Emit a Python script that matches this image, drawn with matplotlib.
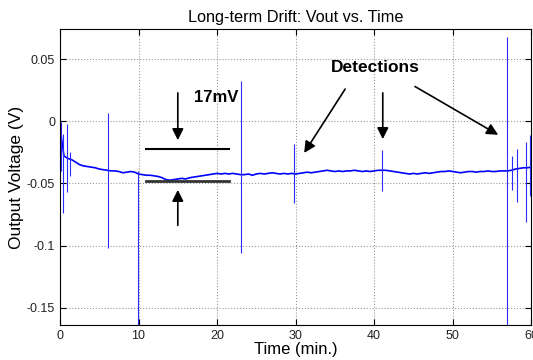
import numpy as np
import matplotlib
matplotlib.use("Agg")
import matplotlib.pyplot as plt

plt.rcParams['font.family'] = ['Liberation Sans', 'DejaVu Sans']

# baseline drift, sampled every 0.5 min (mV)
t_step = 0.5
drift_mv = [
    -5, -28, -30, -31, -33, -35, -36, -36.5, -37, -37.5,
    -38.5, -39, -39.5, -40, -40, -40.5, -41.5, -41, -40.5, -41,
    -42.5, -43, -43.5, -43.5, -44, -44.5, -45.5, -47, -47.5, -47,
    -46.5, -46, -46.5, -45.5, -45, -44.5, -44, -43.5, -43, -42.5,
    -42, -42.5, -42, -42.5, -42, -42.5, -43, -43, -42.5, -43.5,
    -42.5, -42, -42.5, -42, -41.5, -42, -42.5, -42, -42.5, -42,
    -42.5, -42, -41.5, -41, -41.5, -41, -40.5, -40, -39.5, -40,
    -40.5, -40, -40.5, -40, -40, -39.5, -40, -40.5, -40, -40.5,
    -40, -39.5, -39.5, -39.5, -40, -40.5, -41, -41.5, -42, -42.5,
    -42, -42.5, -42, -41.5, -42, -41.5, -41, -40.5, -40.5, -40,
    -40.5, -41, -41.5, -41, -40.5, -40.5, -41, -40.5, -40.5, -40,
    -40.5, -40.5, -40, -40, -40, -39.5, -38.5, -38, -37.5, -37.5,
    -37,
]

# spikes: time (min), top (V), bottom (V)
spike_t = [0.1, 0.4, 0.85, 1.3, 6.1, 9.9, 23.1, 29.8, 41.0, 56.9, 57.6, 58.2, 59.3, 59.9]
spike_top = [-0.001, -0.010, -0.002, -0.025, 0.0065, -0.040, 0.032, -0.018, -0.023, 0.068,
             -0.028, -0.022, -0.017, -0.011]
spike_bot = [-0.040, -0.074, -0.057, -0.044, -0.102, -0.17, -0.106, -0.066, -0.056, -0.17,
             -0.055, -0.065, -0.081, -0.060]

time = np.arange(len(drift_mv)) * t_step
volts = np.array(drift_mv) / 1000.0

fig = plt.figure(figsize=(5.33, 3.6), dpi=100)
ax = fig.add_axes([0.1126, 0.097, 0.884, 0.822])

ax.plot(time, volts, color='blue', lw=1.2)
ax.vlines(spike_t, spike_bot, spike_top, color='#2b2bff', lw=0.8)

ax.set_xlim(0, 60)
ax.set_ylim(-0.164, 0.074)
ax.set_xticks([0, 10, 20, 30, 40, 50, 60])
ax.set_yticks([-0.15, -0.1, -0.05, 0, 0.05])
ax.set_yticklabels(['-0.15', '-0.1', '-0.05', '0', '0.05'])
ax.grid(True, linestyle=':', color='#999999', lw=0.8)
ax.tick_params(direction='in', top=True, right=True, labelsize=9, length=4,
               labelcolor='#222222')
for s in ax.spines.values():
    s.set_linewidth(0.8)

ax.set_title('Long-term Drift: Vout vs. Time', fontsize=11.7, pad=5)
ax.set_xlabel('Time (min.)', fontsize=12, labelpad=0)
ax.set_ylabel('Output Voltage (V)', fontsize=12.5, labelpad=2)

# 17 mV drift band
ax.plot([11, 21.5], [-0.022, -0.022], color='k', lw=1.5)
ax.plot([11, 21.5], [-0.0484, -0.0484], color='#333333', lw=2)
arrow = dict(arrowstyle='-|>', mutation_scale=17, color='k', lw=1.2)
ax.annotate('', xy=(15, -0.0175), xytext=(15, 0.025), arrowprops=arrow)
ax.annotate('', xy=(15, -0.053), xytext=(15, -0.086), arrowprops=arrow)
ax.text(17, 0.0193, '17mV', fontsize=12, fontweight='bold', va='center')

# detections
ax.text(40.2, 0.0435, 'Detections', fontsize=12.5, fontweight='bold', ha='center', va='center')
ax.annotate('', xy=(30.9, -0.0274), xytext=(36.5, 0.0277), arrowprops=arrow)
ax.annotate('', xy=(41.1, -0.0167), xytext=(41.1, 0.025), arrowprops=arrow)
ax.annotate('', xy=(56.1, -0.0121), xytext=(44.9, 0.029), arrowprops=arrow)

fig.savefig('out.png', dpi=100)
